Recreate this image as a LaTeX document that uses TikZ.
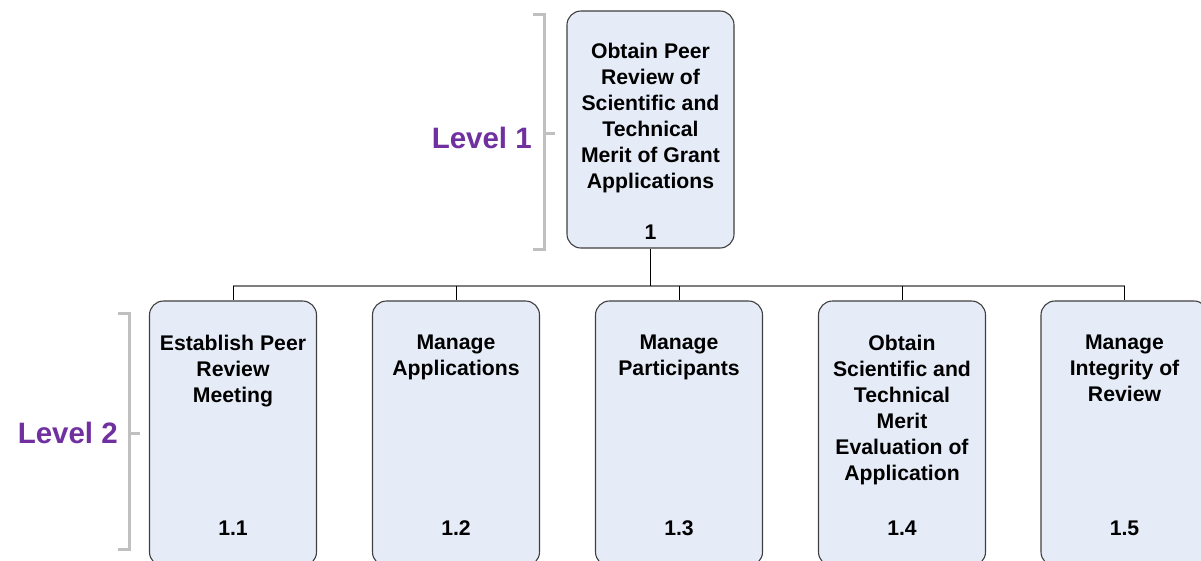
\documentclass[tikz,border=0pt]{standalone}
\usepackage{fontspec}
\setmainfont{Liberation Sans}
\definecolor{boxfill}{HTML}{E6ECF7}
\definecolor{boxline}{HTML}{3F3F3F}
\definecolor{busline}{HTML}{7F7F7F}
\definecolor{bracketgray}{HTML}{C0C0C0}
\definecolor{levelpurple}{HTML}{7030A0}
\tikzset{
  taskbox/.style={draw=boxline, fill=boxfill, line width=1.1pt, rounded corners=14pt,
    minimum width=167pt, inner sep=0pt},
  tasktext/.style={font=\fontsize{21.2}{26}\selectfont\bfseries, align=center, inner sep=0pt, anchor=north},
  tasknum/.style={font=\fontsize{21.2}{26}\selectfont\bfseries, inner sep=0pt, anchor=base},
  levellabel/.style={font=\fontsize{29.5}{34}\selectfont\bfseries, text=levelpurple, inner sep=0pt, anchor=base east},
  bracket/.style={draw=bracketgray, line width=3pt},
  conn/.style={draw=black, line width=1pt},
  bus/.style={draw=busline, line width=1.3pt}
}
\begin{document}
\begin{tikzpicture}[x=1pt, y=-1pt]
\useasboundingbox (0,0) rectangle (1201,560);
\clip (0,0) rectangle (1201,560);
\fill[white] (0,0) rectangle (1201,560);

% Level 1 task
\node[taskbox, minimum height=237pt] (t1) at (650.5,129.5) {};
\node[tasktext] (t1txt) at (650.5,42.5) {Obtain Peer\\Review of\\Scientific and\\Technical\\Merit of Grant\\Applications};
\node[tasknum] (t1num) at (650.5,239) {1};

% Level 2 tasks
\foreach \n/\cx/\txt in {1/233/{Establish Peer\\Review\\Meeting},
                         2/456/{Manage\\Applications},
                         3/679/{Manage\\Participants},
                         4/902/{Obtain\\Scientific and\\Technical\\Merit\\Evaluation of\\Application},
                         5/1124.5/{Manage\\Integrity of\\Review}}{
  \node[taskbox, minimum height=265pt] (b\n) at (\cx,433.5) {};
  \node[tasktext] (b\n txt) at (\cx,334.5) {\txt};
  \node[tasknum] (b\n num) at (\cx,535) {1.\n};
}

% Connectors
\coordinate (busy) at (0,286);
\draw[bus] (b1.north |- busy) -- (b5.north |- busy);
\draw[conn] (t1.south) -- (t1.south |- busy);
\foreach \n in {1,...,5}{
  \draw[conn] (b\n.north |- busy) -- (b\n.north);
}

% Level brackets
\draw[bracket] (533,14) -- (544,14) -- (544,249) -- (533,249);
\draw[bracket] (544,133) -- (555,133);
\node[levellabel] (lvl1) at (532,148) {Level 1};

\draw[bracket] (118,313) -- (129,313) -- (129,549) -- (118,549);
\draw[bracket] (129,433) -- (140,433);
\node[levellabel] (lvl2) at (118,443) {Level 2};
\end{tikzpicture}
\end{document}
